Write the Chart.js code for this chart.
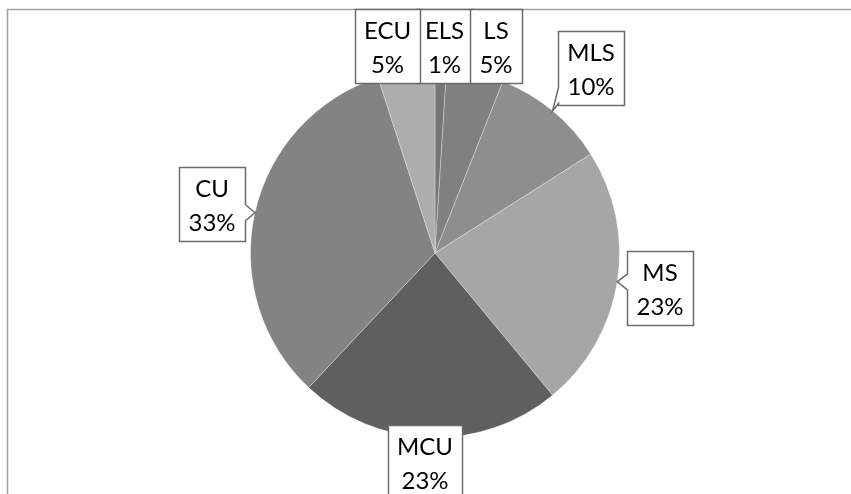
<!DOCTYPE html>
<html>
<head>
<meta charset="utf-8">
<script src="https://cdn.jsdelivr.net/npm/chart.js@4"></script>
<style>
  html, body { margin: 0; padding: 0; background: #fff; }
  #wrap { width: 851px; height: 494px; position: relative; }
</style>
</head>
<body>
<div id="wrap"><canvas id="grafico" width="851" height="494"></canvas></div>
<script>
// data, clockwise from 12 o'clock
const categorias = ['ELS', 'LS', 'MLS', 'MS', 'MCU', 'CU', 'ECU'];
const porcentajes = [1, 5, 10, 23, 23, 33, 5];

// styling
const colores = ['#767676', '#808080', '#8e8e8e', '#a6a6a6', '#5f5f5f', '#838383', '#adadad'];
// callout box centre, offset from pie centre (px)
const posEtiquetas = [[9.5, -207], [61, -207], [156, -185], [225, 35], [-10, 209], [-223, -49.5], [-47.5, -207]];

const FUENTE = '24px Lato, "Open Sans", sans-serif';

const marco = {
  id: 'marco',
  beforeDraw(chart) {
    const ctx = chart.ctx;
    ctx.save();
    ctx.strokeStyle = '#a0a0a0';
    ctx.lineWidth = 1.5;
    ctx.beginPath();
    ctx.moveTo(7.5, 494);
    ctx.lineTo(7.5, 9.5);
    ctx.lineTo(851, 9.5);
    ctx.stroke();
    ctx.restore();
  }
};

const etiquetas = {
  id: 'etiquetas',
  afterDatasetsDraw(chart) {
    const ctx = chart.ctx;
    const meta = chart.getDatasetMeta(0);
    ctx.save();
    ctx.font = FUENTE;
    meta.data.forEach((arc, i) => {
      const p = arc.getProps(['x', 'y', 'startAngle', 'endAngle', 'outerRadius'], true);
      const mid = (p.startAngle + p.endAngle) / 2;
      const tx = p.x + Math.cos(mid) * p.outerRadius;
      const ty = p.y + Math.sin(mid) * p.outerRadius;
      const l1 = categorias[i];
      const l2 = porcentajes[i] + '%';
      const w = Math.max(ctx.measureText(l1).width, ctx.measureText(l2).width) + 18;
      const h = 74;
      const cx = p.x + posEtiquetas[i][0];
      const cy = p.y + posEtiquetas[i][1];
      const L = Math.round(cx - w / 2) + 0.5, R = Math.round(cx + w / 2) + 0.5;
      const T = Math.round(cy - h / 2) + 0.5, B = Math.round(cy + h / 2) + 0.5;
      const c = Math.min(Math.max(ty, T + 10), B - 10);
      const b1 = c - 8, b2 = c + 8;

      ctx.beginPath();
      ctx.moveTo(L, T);
      ctx.lineTo(R, T);
      if (tx > R) { ctx.lineTo(R, b1); ctx.lineTo(tx, ty); ctx.lineTo(R, b2); }
      ctx.lineTo(R, B);
      ctx.lineTo(L, B);
      if (tx < L) { ctx.lineTo(L, b2); ctx.lineTo(tx, ty); ctx.lineTo(L, b1); }
      ctx.closePath();
      ctx.fillStyle = '#ffffff';
      ctx.fill();
      ctx.strokeStyle = '#6b6b6b';
      ctx.lineWidth = 1.5;
      ctx.stroke();

      ctx.fillStyle = '#000000';
      ctx.textAlign = 'center';
      ctx.textBaseline = 'middle';
      ctx.fillText(l1, cx, T + 22);
      ctx.fillText(l2, cx, T + 56);
    });
    ctx.restore();
  }
};

new Chart(document.getElementById('grafico'), {
  type: 'pie',
  data: {
    labels: categorias,
    datasets: [{
      data: porcentajes,
      backgroundColor: colores,
      borderColor: 'rgba(255,255,255,0.3)',
      borderWidth: 1
    }]
  },
  options: {
    responsive: false,
    animation: false,
    layout: { padding: { left: 250, right: 231, top: 68, bottom: 56 } },
    plugins: {
      legend: { display: false },
      tooltip: { enabled: false }
    }
  },
  plugins: [marco, etiquetas]
});
</script>
</body>
</html>
